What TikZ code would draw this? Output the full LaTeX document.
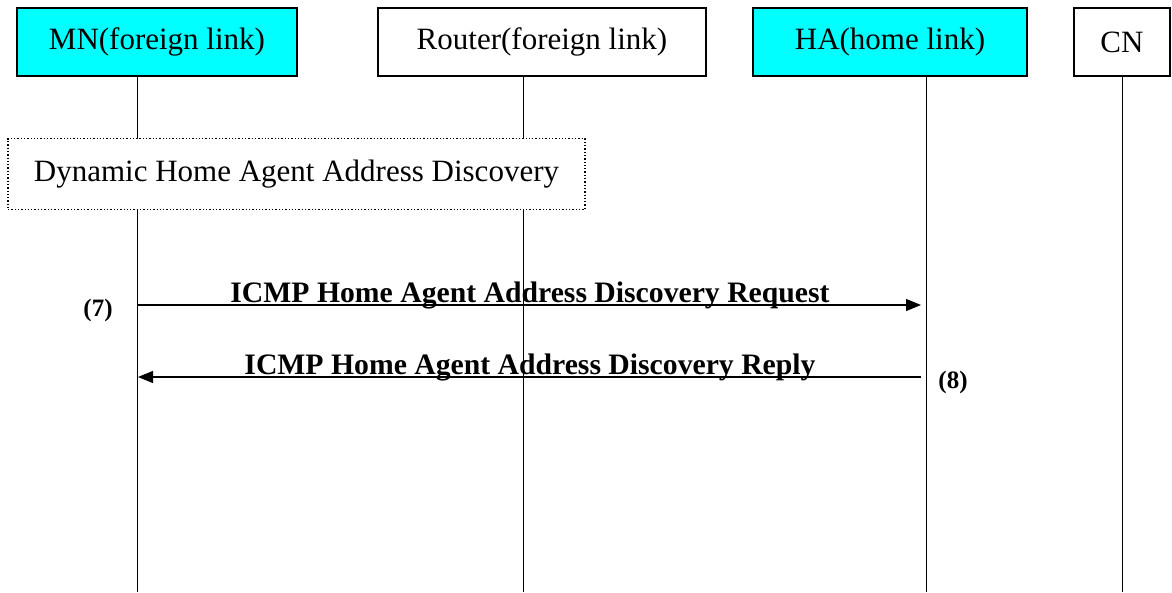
\documentclass[tikz,border=0pt]{standalone}
\usepackage{fontspec}
\setmainfont{Liberation Serif}
\usetikzlibrary{arrows.meta}
\definecolor{aqua}{HTML}{00FFFF}
\begin{document}
\begin{tikzpicture}[x=1pt,y=-1pt,
  actor/.style={draw=black, line width=1.3pt, minimum height=68pt, inner sep=0pt,
    font=\fontsize{31}{34}\selectfont},
  life/.style={line width=1pt},
  msg/.style={line width=1.1pt, -{Triangle[length=15pt,width=12pt]}},
  msglabel/.style={font=\bfseries\fontsize{29.7}{33}\selectfont, anchor=base, inner sep=0pt},
  numlabel/.style={font=\bfseries\fontsize{25}{28}\selectfont, inner sep=0pt},
  phase/.style={draw=black, dotted, line width=1.3pt, fill=white, minimum width=577pt,
    minimum height=71pt, font=\fontsize{31}{34}\selectfont}]
\useasboundingbox (0,0) rectangle (1172,592);
\fill[white] (0,0) rectangle (1172,592);
% actors
\node[actor, fill=aqua, minimum width=280pt] (mn) at (157,42) {MN(foreign link)};
\node[actor, fill=white, minimum width=328pt] (rt) at (542,42) {Router(foreign link)};
\node[actor, fill=aqua, minimum width=274pt] (ha) at (890,42) {HA(home link)};
\node[actor, fill=white, minimum width=96pt] (cn) at (1122,42) {CN};
% lifelines
\coordinate (mnt) at (137,76);  \coordinate (mnb) at (137,592);
\coordinate (rtt) at (523,76);  \coordinate (rtb) at (523,592);
\coordinate (hat) at (926,76);  \coordinate (hab) at (926,592);
\coordinate (cnt) at (1122,76); \coordinate (cnb) at (1122,592);
\draw[life] (mnt) -- (mnb);
\draw[life] (rtt) -- (rtb);
\draw[life] (hat) -- (hab);
\draw[life] (cnt) -- (cnb);
% phase box
\node[phase] (dhaad) at (296.5,174) {Dynamic Home Agent Address Discovery};
% messages
\coordinate (m1s) at (137,305); \coordinate (m1e) at (921,305);
\coordinate (m2s) at (921,377); \coordinate (m2e) at (138,377);
\draw[msg] (m1s) -- (m1e);
\draw[msg] (m2s) -- (m2e);
\node[msglabel] (l1) at (530,302) {ICMP Home Agent Address Discovery Request};
\node[msglabel] (l2) at (530,374) {ICMP Home Agent Address Discovery Reply};
\node[numlabel] (n7) at (98,310) {(7)};
\node[numlabel] (n8) at (953,382) {(8)};
\end{tikzpicture}
\end{document}
